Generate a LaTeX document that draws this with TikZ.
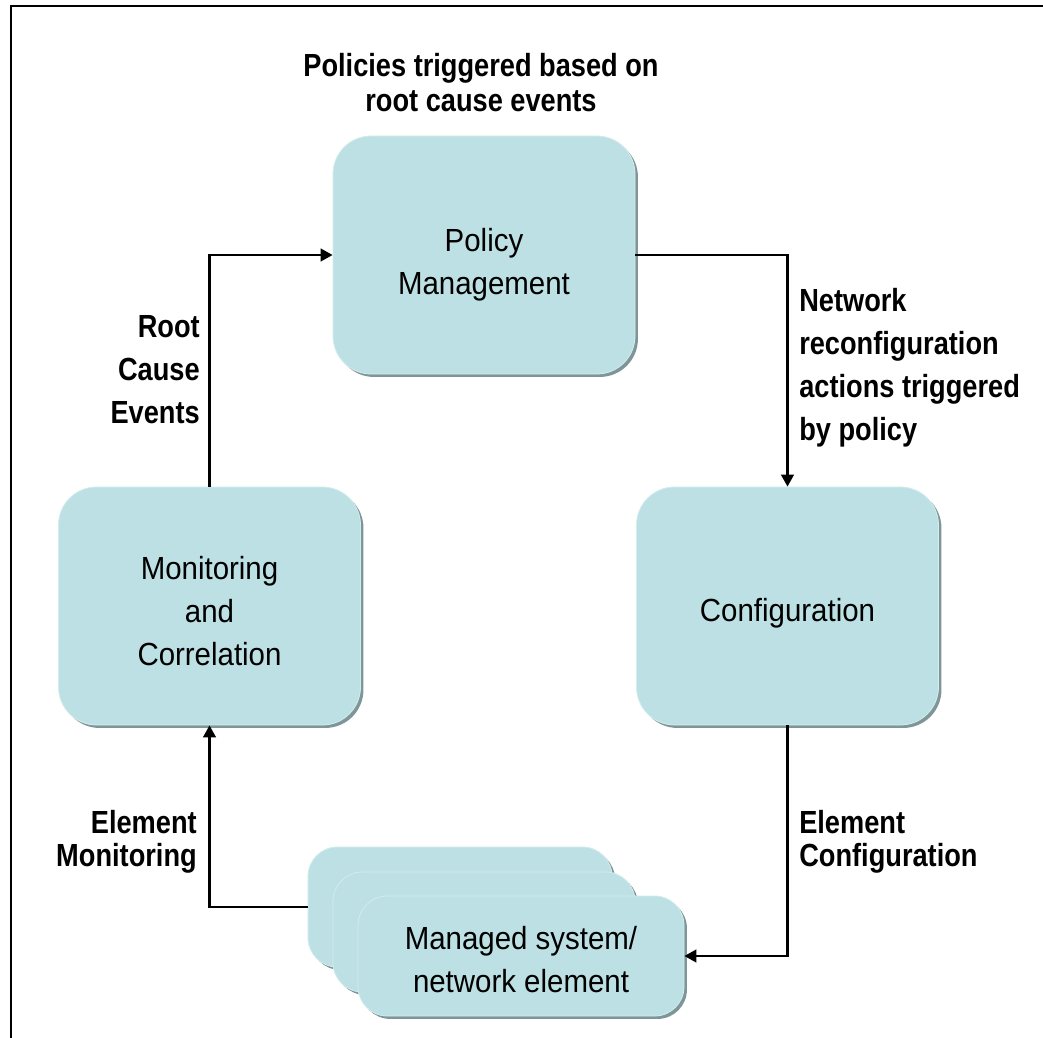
\documentclass[tikz,border=0pt]{standalone}
\usepackage{fontspec}
\setmainfont{Liberation Sans}
\newfontfamily\boxfont[FakeStretch=0.92]{Liberation Sans}
\newfontfamily\lblfont[FakeStretch=0.85]{Liberation Sans}
\usetikzlibrary{arrows.meta,shadows}
\definecolor{boxfill}{HTML}{BCE0E3}
\definecolor{boxshade}{HTML}{7F9699}
\definecolor{boxrim}{HTML}{D3ECEE}
% invisible strut that lowers a centred text block inside its box
\newcommand{\lowerby}[1]{\rule{0pt}{#1}}

\begin{document}
\begin{tikzpicture}[x=0.75pt,y=-0.75pt,
  panel/.style={fill=boxfill, draw=boxrim, line width=0.6pt, inner sep=0pt, align=center,
    font=\boxfont\fontsize{24}{32.25}\selectfont,
    drop shadow={shadow xshift=2.2pt, shadow yshift=-2.2pt, fill=boxshade, opacity=1}},
  stage/.style={panel, rounded corners=28.5pt, minimum width=226.5pt, minimum height=178.5pt},
  element/.style={panel, rounded corners=22pt, minimum height=90pt},
  lbl/.style={inner sep=0pt, font=\lblfont\bfseries\fontsize{24}{32.25}\selectfont},
  arr/.style={line width=1.7pt, -{Triangle[length=9pt,width=9.5pt]}},
  link/.style={line width=1.7pt}]

\useasboundingbox (0,0) rectangle (1043,1038);

% outer frame (top and left edges)
\draw[line width=2pt] (11,1038) -- (11,6) -- (1043,6);

% main stages of the loop
\node[stage] (pol)  at (484,255)   {\lowerby{32pt}Policy\\Management};
\node[stage] (mon)  at (209.5,606) {\lowerby{25pt}Monitoring\\and\\Correlation};
\node[stage] (conf) at (787.5,606) {\lowerby{28pt}Configuration};

% stack of managed elements, back to front
\node[element, minimum width=228pt]   (back)  at (460,907) {};
\node[element, minimum width=226.5pt] (mid)   at (484,932) {};
\node[element, minimum width=244.5pt] (front) at (521,956)
  {\lowerby{23pt}Managed system/\\network element};

% connectors
\draw[arr]  (mon.north) |- (pol.west);
\draw[arr]  (pol.east) -| (conf.north);
\draw[arr]  (conf.south) |- (front.east);
\draw[arr]  (back.west) -| (mon.south);

% labels
\node[lbl, align=center, anchor=north, font=\lblfont\bfseries\fontsize{24}{26.25}\selectfont]
  (tPol) at (481,53) {Policies triggered based on\\root cause events};
\node[lbl, align=right, anchor=north east] (tRoot) at (200,315)
  {Root\\Cause\\Events};
\node[lbl, align=left, anchor=north west] (tNet) at (799,288)
  {Network\\reconfiguration\\actions triggered\\by policy};
\node[lbl, align=right, anchor=north east, font=\lblfont\bfseries\fontsize{24}{24.75}\selectfont]
  (tElMon) at (197,810) {Element\\Monitoring};
\node[lbl, align=left, anchor=north west, font=\lblfont\bfseries\fontsize{24}{24.75}\selectfont]
  (tElConf) at (799,810) {Element\\Configuration};

\end{tikzpicture}
\end{document}
